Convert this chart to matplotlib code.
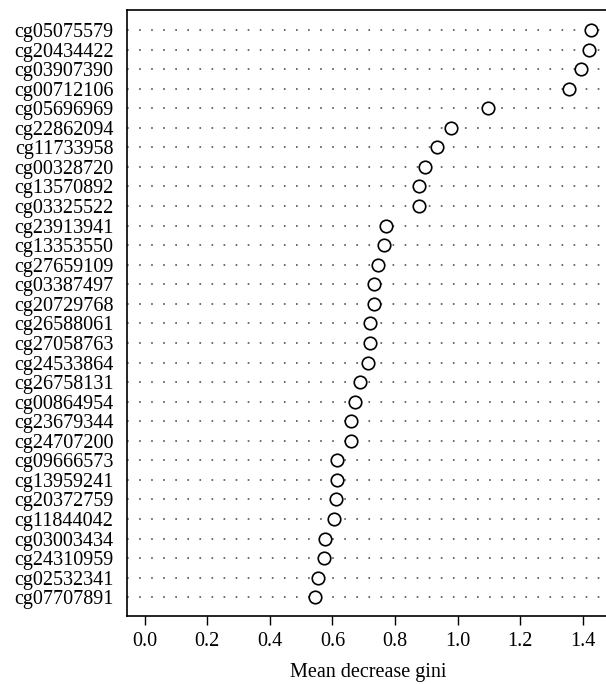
import matplotlib
matplotlib.use("Agg")
import matplotlib.pyplot as plt
import numpy as np

# CpG sites ordered top to bottom, with mean decrease gini
probes = ["cg05075579", "cg20434422", "cg03907390", "cg00712106", "cg05696969",
          "cg22862094", "cg11733958", "cg00328720", "cg13570892", "cg03325522",
          "cg23913941", "cg13353550", "cg27659109", "cg03387497", "cg20729768",
          "cg26588061", "cg27058763", "cg24533864", "cg26758131", "cg00864954",
          "cg23679344", "cg24707200", "cg09666573", "cg13959241", "cg20372759",
          "cg11844042", "cg03003434", "cg24310959", "cg02532341", "cg07707891"]
gini = [1.426, 1.420, 1.393, 1.356, 1.097,
        0.980, 0.933, 0.897, 0.877, 0.877,
        0.770, 0.764, 0.745, 0.733, 0.732,
        0.720, 0.720, 0.715, 0.688, 0.671,
        0.660, 0.660, 0.615, 0.615, 0.610,
        0.606, 0.576, 0.573, 0.554, 0.545]
xticks = [0.0, 0.2, 0.4, 0.6, 0.8, 1.0, 1.2, 1.4]

plt.rcParams['font.family'] = ['Liberation Serif', 'DejaVu Serif']
plt.rcParams['font.size'] = 14.5

fig = plt.figure(figsize=(6.06, 6.84), dpi=100)
ax = fig.add_axes([0.2101, 0.0999, 0.7944, 0.8855])

n = len(probes)
ypos = np.arange(n, 0, -1)

for y in ypos:
    ax.axhline(y, color='#444444', lw=1.1, dashes=(1.1, 6.8), zorder=1)

ax.plot(gini, ypos, 'o', ms=9, mfc='white', mec='black', mew=1.2, zorder=3,
        clip_on=False)

ax.set_xlim(-0.0556, 1.483)
ax.set_ylim(0.06, n + 1.02)
ax.set_yticks(ypos)
ax.set_yticklabels(probes)
ax.tick_params(axis='y', length=0, pad=10)
ax.set_xticks(xticks)
ax.set_xticklabels([f"{v:.1f}" for v in xticks])
ax.tick_params(axis='x', length=6.5, width=1.0, pad=5, direction='out')
ax.set_xlabel("Mean decrease gini", labelpad=9)

for s in ax.spines.values():
    s.set_linewidth(1.2)

fig.savefig("out.png", dpi=100)
